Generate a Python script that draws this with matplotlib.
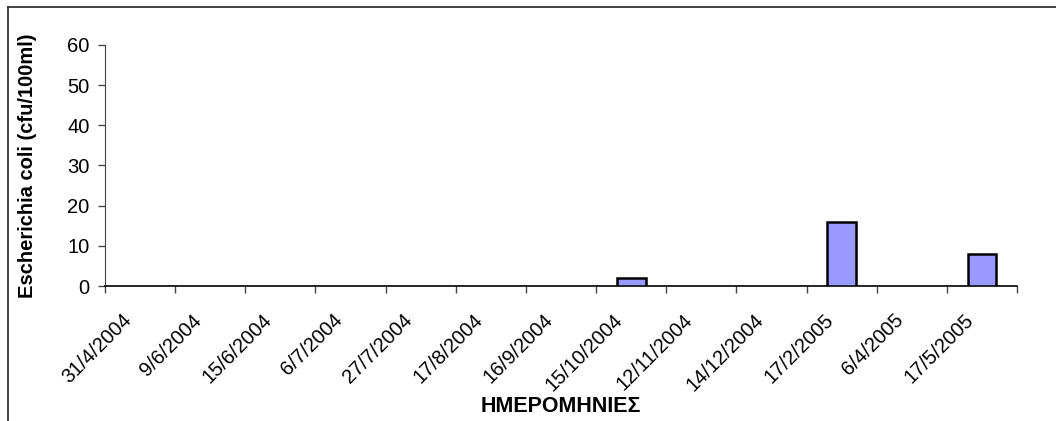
import matplotlib
matplotlib.use("Agg")
import matplotlib.pyplot as plt
import matplotlib.transforms as mtransforms
from matplotlib.lines import Line2D
import numpy as np

plt.rcParams['font.family'] = ['Liberation Sans', 'DejaVu Sans']

# data
dates = ["31/4/2004", "9/6/2004", "15/6/2004", "6/7/2004", "27/7/2004",
         "17/8/2004", "16/9/2004", "15/10/2004", "12/11/2004", "14/12/2004",
         "17/2/2005", "6/4/2005", "17/5/2005"]
ecoli = [0, 0, 0, 0, 0, 0, 0, 2, 0, 0, 16, 0, 8]
yticks = [0, 10, 20, 30, 40, 50, 60]

W, H = 1056, 421
fig = plt.figure(figsize=(W / 100, H / 100), dpi=100)
ax = fig.add_axes([105 / W, 1 - 286 / H, (1017 - 105) / W, (286 - 45) / H])

x = np.arange(len(dates))
# zero values get no outline, like the original (nothing visible)
lws = [1.8 if v > 0 else 0 for v in ecoli]
ax.bar(x, ecoli, width=0.41, color="#9999FF", edgecolor="black", linewidth=lws, zorder=3)

ax.set_xlim(-0.5, len(dates) - 0.5)
ax.set_ylim(0, 60)
ax.set_yticks(yticks)
ax.set_yticklabels([str(v) for v in yticks], fontsize=14.5)

# category labels at centres, tick marks on the boundaries
ax.set_xticks(x)
ax.set_xticklabels(dates, rotation=45, ha="right", rotation_mode="anchor", fontsize=14.5)
ax.set_xticks(np.arange(-0.5, len(dates)), minor=True)
ax.tick_params(axis="x", which="major", length=0, pad=9)
ax.tick_params(axis="x", which="minor", length=5, width=1, color="#444444")
ax.tick_params(axis="y", length=5, width=1, color="#444444", pad=6)

# nudge rotated labels down-left a little
shift = mtransforms.ScaledTranslation(-18 / 100, -12 / 100, fig.dpi_scale_trans)
for lab in ax.get_xticklabels():
    lab.set_transform(lab.get_transform() + shift)

for s in ["top", "right"]:
    ax.spines[s].set_visible(False)
ax.spines["left"].set_color("#444444")
ax.spines["bottom"].set_color("black")
ax.spines["bottom"].set_linewidth(1.2)

ax.set_ylabel("Escherichia coli (cfu/100ml)", fontsize=14.5, fontweight="bold", labelpad=22)
fig.text(561 / W, 1 - 407 / H, "ΗΜΕΡΟΜΗΝΙΕΣ", fontsize=15.5, fontweight="bold",
         ha="center", va="center")

# outer chart frame (cut off right and bottom)
fig.add_artist(Line2D([8 / W, 1], [1 - 7 / H, 1 - 7 / H], color="#333333", linewidth=1.3))
fig.add_artist(Line2D([8 / W, 8 / W], [0, 1 - 7 / H], color="#333333", linewidth=1.3))

fig.savefig("out.png", dpi=100)
